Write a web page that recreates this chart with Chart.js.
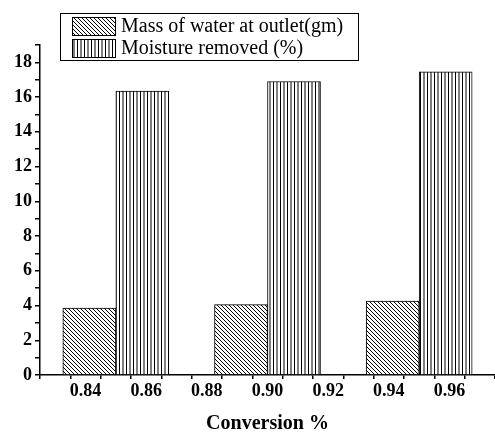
<!DOCTYPE html>
<html lang="en">
  <head>
    <meta charset="UTF-8" />
    <title>Conversion % — mass of water and moisture removed</title>
    <script src="https://cdn.jsdelivr.net/npm/chart.js"></script>
    <style>
      body {
        margin: 0;
        padding: 0;
        background: #ffffff;
      }
      canvas {
        display: block;
      }
    </style>
  </head>
  <body>
    <canvas id="conv-chart" width="495" height="436"></canvas>

    <script>
      // group centres on the conversion axis
      const conversion = [0.85, 0.9, 0.95];
      const massWater = [3.86, 4.05, 4.25];
      const moistureRemoved = [16.35, 16.9, 17.45];
      const seriesNames = ["Mass of water at outlet(gm)", "Moisture removed (%)"];

      // tick marks (labelled every second one)
      const xTickValues = [
        0.83, 0.84, 0.85, 0.86, 0.87, 0.88, 0.89, 0.9, 0.91, 0.92, 0.93, 0.94,
        0.95, 0.96, 0.97,
      ];
      const xTickLabels = ["0.84", "0.86", "0.88", "0.90", "0.92", "0.94", "0.96"];
      const yTickValues = [
        0, 1, 2, 3, 4, 5, 6, 7, 8, 9, 10, 11, 12, 13, 14, 15, 16, 17, 18, 19,
      ];
      const yTickLabels = ["0", "2", "4", "6", "8", "10", "12", "14", "16", "18"];

      const serif = '"Liberation Serif", "Times New Roman", serif';

      // hatch fills
      function diagonalHatch() {
        const s = 4;
        const c = document.createElement("canvas");
        c.width = s;
        c.height = s;
        const g = c.getContext("2d");
        g.fillStyle = "#fff";
        g.fillRect(0, 0, s, s);
        g.strokeStyle = "#000";
        g.lineWidth = 1;
        g.beginPath();
        g.moveTo(-1, -1);
        g.lineTo(s + 1, s + 1);
        g.moveTo(-1, s - 1);
        g.lineTo(1, s + 1);
        g.moveTo(s - 1, -1);
        g.lineTo(s + 1, 1);
        g.stroke();
        return g.createPattern(c, "repeat");
      }

      function verticalHatch() {
        const c = document.createElement("canvas");
        c.width = 7;
        c.height = 4;
        const g = c.getContext("2d");
        g.fillStyle = "#fff";
        g.fillRect(0, 0, 7, 4);
        g.strokeStyle = "#000";
        g.lineWidth = 1;
        g.beginPath();
        g.moveTo(0.5, 0);
        g.lineTo(0.5, 4);
        g.moveTo(4, 0);
        g.lineTo(4, 4);
        g.stroke();
        return g.createPattern(c, "repeat");
      }

      const toPoints = (ys) => conversion.map((x, i) => ({ x, y: ys[i] }));

      // label only the ticks that appear in the label lists
      const xLabel = (v) => {
        const t = v.toFixed(2);
        return xTickLabels.includes(t) ? t : "";
      };
      const yLabel = (v) => (yTickLabels.includes(String(v)) ? String(v) : "");

      // legend drawn as a framed box like the original
      const boxLegend = {
        id: "boxLegend",
        afterDraw(chart) {
          const ctx = chart.ctx;
          ctx.save();
          ctx.fillStyle = "#fff";
          ctx.fillRect(60.5, 13.5, 298, 47);
          ctx.strokeStyle = "#000";
          ctx.lineWidth = 1;
          ctx.strokeRect(60.5, 13.5, 298, 47);
          chart.data.datasets.forEach((ds, i) => {
            const y = 17 + i * 22;
            ctx.fillStyle = ds.backgroundColor;
            ctx.fillRect(72, y, 44, 19);
            ctx.strokeStyle = "#000";
            ctx.strokeRect(72.5, y + 0.5, 43, 18);
            ctx.fillStyle = "#000";
            ctx.font = "20px " + serif;
            ctx.textBaseline = "middle";
            ctx.fillText(ds.label, 121, y + 10);
          });
          ctx.restore();
        },
      };

      const axisFont = { family: serif, size: 18, weight: "bold" };

      new Chart(document.getElementById("conv-chart"), {
        type: "bar",
        data: {
          datasets: [
            {
              label: seriesNames[0],
              data: toPoints(massWater),
              backgroundColor: diagonalHatch(),
              borderColor: "#000",
              borderWidth: 1,
              barThickness: 53,
            },
            {
              label: seriesNames[1],
              data: toPoints(moistureRemoved),
              backgroundColor: verticalHatch(),
              borderColor: "#000",
              borderWidth: 1,
              barThickness: 53,
            },
          ],
        },
        options: {
          responsive: false,
          animation: false,
          layout: { padding: { top: 45, right: 0, left: 0, bottom: 0 } },
          plugins: {
            legend: { display: false },
            tooltip: { enabled: false },
          },
          scales: {
            x: {
              type: "linear",
              min: 0.825,
              max: 0.975,
              offset: false,
              afterBuildTicks: (s) => {
                s.ticks = xTickValues.map((value) => ({ value }));
              },
              afterFit: (s) => {
                s.height = 61;
              },
              ticks: {
                autoSkip: false,
                maxRotation: 0,
                padding: 2,
                color: "#000",
                font: axisFont,
                callback: xLabel,
              },
              grid: {
                drawOnChartArea: false,
                drawTicks: true,
                tickLength: 4,
                color: "#000",
                lineWidth: 1.5,
              },
              border: { display: true, color: "#000", width: 1.5 },
              title: {
                display: true,
                text: "Conversion %",
                color: "#000",
                font: { family: serif, size: 20, weight: "bold" },
                padding: { top: 12, bottom: 0 },
              },
            },
            y: {
              min: 0,
              max: 19,
              afterBuildTicks: (s) => {
                s.ticks = yTickValues.map((value) => ({ value }));
              },
              afterFit: (s) => {
                s.width = 40;
              },
              ticks: {
                autoSkip: false,
                padding: 3,
                color: "#000",
                font: axisFont,
                callback: yLabel,
              },
              grid: {
                drawOnChartArea: false,
                drawTicks: true,
                tickLength: 5,
                color: "#000",
                lineWidth: 1.5,
              },
              border: { display: true, color: "#000", width: 1.5 },
            },
          },
        },
        plugins: [boxLegend],
      });
    </script>
  </body>
</html>
